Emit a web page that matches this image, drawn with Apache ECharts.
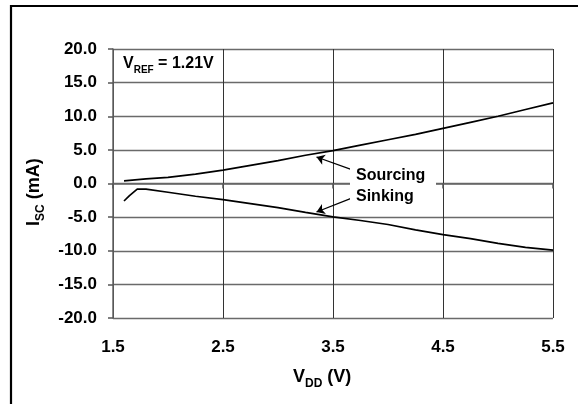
<!DOCTYPE html>
<html>
<head>
<meta charset="utf-8">
<script src="https://cdn.jsdelivr.net/npm/echarts@6/dist/echarts.min.js"></script>
<style>
  html, body { margin: 0; padding: 0; background: #fff; }
  #chart { width: 578px; height: 404px; }
</style>
</head>
<body>
<div id="chart"></div>
<script>
// 数据：短路电流 vs VDD
var sourceX = [1.6, 1.8, 2.0, 2.25, 2.5, 2.75, 3.0, 3.25, 3.5, 3.75, 4.0, 4.25, 4.5, 4.75, 5.0, 5.25, 5.5];
var sourceY = [0.4, 0.7, 0.9, 1.4, 2.0, 2.7, 3.4, 4.2, 4.9, 5.7, 6.5, 7.3, 8.2, 9.1, 10.0, 11.0, 12.0];
var sinkX = [1.6, 1.65, 1.72, 1.8, 2.0, 2.25, 2.5, 2.75, 3.0, 3.25, 3.5, 3.75, 4.0, 4.25, 4.5, 4.75, 5.0, 5.25, 5.5];
var sinkY = [-2.6, -1.8, -0.85, -0.85, -1.3, -1.9, -2.4, -3.0, -3.6, -4.3, -4.95, -5.5, -6.1, -6.9, -7.6, -8.2, -8.9, -9.5, -9.9];
var xTicks = [1.5, 2.5, 3.5, 4.5, 5.5];
var yTicks = [-20, -15, -10, -5, 0, 5, 10, 15, 20];
// 注释箭头（数据坐标）
var sourceArrow = [[3.67, 2.05], [3.35, 3.94]];
var sinkArrow = [[3.67, -2.16], [3.35, -4.24]];

function pairs(xs, ys) {
    return xs.map(function (x, i) { return [x, ys[i]]; });
}

var font = 'Liberation Sans, Arial, sans-serif';
var myChart = echarts.init(document.getElementById('chart'));
var option = {
    animation: false,
    backgroundColor: '#fff',
    grid: { left: 113, top: 49, width: 440, height: 269 },
    xAxis: {
        type: 'value',
        min: xTicks[0],
        max: xTicks[xTicks.length - 1],
        interval: 1,
        axisLine: { show: true, lineStyle: { color: '#666', width: 1.5 } },
        axisTick: { show: true, length: 5, lineStyle: { color: '#555', width: 1.5 } },
        axisLabel: {
            margin: 21, color: '#000', fontFamily: font, fontWeight: 'bold', fontSize: 17,
            formatter: function (v) { return v.toFixed(1); }
        },
        splitLine: { show: true, lineStyle: { color: '#333', width: 1 } }
    },
    yAxis: {
        type: 'value',
        min: yTicks[0],
        max: yTicks[yTicks.length - 1],
        interval: 5,
        axisLine: { show: true, onZero: false, lineStyle: { color: '#666', width: 1.5 } },
        axisTick: { show: true, length: 5, lineStyle: { color: '#555', width: 1.5 } },
        axisLabel: {
            margin: 16, color: '#000', fontFamily: font, fontWeight: 'bold', fontSize: 17,
            formatter: function (v) { return v.toFixed(1); }
        },
        splitLine: { show: true, lineStyle: { color: '#6a6a6a', width: 1.3 } }
    },
    series: [{
        name: 'Sourcing',
        type: 'line',
        data: pairs(sourceX, sourceY),
        showSymbol: false,
        smooth: false,
        lineStyle: { color: '#000', width: 1.7 },
        markLine: {
            silent: true,
            symbol: ['none', 'arrow'],
            symbolSize: 8,
            label: { show: false },
            lineStyle: { color: '#000', width: 1.3, type: 'solid' },
            data: [
                [{ coord: sourceArrow[0] }, { coord: sourceArrow[1] }],
                [{ coord: sinkArrow[0] }, { coord: sinkArrow[1] }]
            ]
        }
    }, {
        name: 'Sinking',
        type: 'line',
        data: pairs(sinkX, sinkY),
        showSymbol: false,
        lineStyle: { color: '#000', width: 1.7 }
    }],
    graphic: [
        // 外框
        { type: 'polyline', z: 100, shape: { points: [[11, 404], [11, 6], [578, 6]] },
          style: { stroke: '#000', lineWidth: 2.2, fill: null } },
        // 图例文字背景
        { type: 'rect', z: 100, shape: { x: 350, y: 165, width: 86, height: 40 }, style: { fill: '#fff' } },
        { type: 'text', z: 101, left: 356, top: 168,
          style: { text: 'Sourcing', font: 'bold 16px ' + font, fill: '#000' } },
        { type: 'text', z: 101, left: 356, top: 189,
          style: { text: 'Sinking', font: 'bold 16px ' + font, fill: '#000' } },
        // V_REF
        { type: 'text', z: 101, left: 123, top: 56,
          style: {
              text: '{m|V}{s|REF}{m| = 1.21V}',
              rich: {
                  m: { fontFamily: font, fontWeight: 'bold', fontSize: 16, color: '#000', verticalAlign: 'bottom', lineHeight: 17 },
                  s: { fontFamily: font, fontWeight: 'bold', fontSize: 10, color: '#000', verticalAlign: 'bottom', lineHeight: 12, padding: [0, 0, -3, 0] }
              }
          } },
        // X 轴标题
        { type: 'text', z: 101, left: 293, top: 368,
          style: {
              text: '{m|V}{s|DD}{m| (V)}',
              rich: {
                  m: { fontFamily: font, fontWeight: 'bold', fontSize: 18, color: '#000', verticalAlign: 'bottom', lineHeight: 19 },
                  s: { fontFamily: font, fontWeight: 'bold', fontSize: 12, color: '#000', verticalAlign: 'bottom', lineHeight: 14, padding: [0, 0, -4, 0] }
              }
          } },
        // Y 轴标题
        { type: 'text', z: 101, x: 24, y: 226, rotation: Math.PI / 2,
          style: {
              text: '{m|I}{s|SC}{m| (mA)}',
              rich: {
                  m: { fontFamily: font, fontWeight: 'bold', fontSize: 18, color: '#000', verticalAlign: 'bottom', lineHeight: 19 },
                  s: { fontFamily: font, fontWeight: 'bold', fontSize: 12, color: '#000', verticalAlign: 'bottom', lineHeight: 14, padding: [0, 0, -4, 0] }
              }
          } }
    ]
};
myChart.setOption(option);
</script>
</body>
</html>
